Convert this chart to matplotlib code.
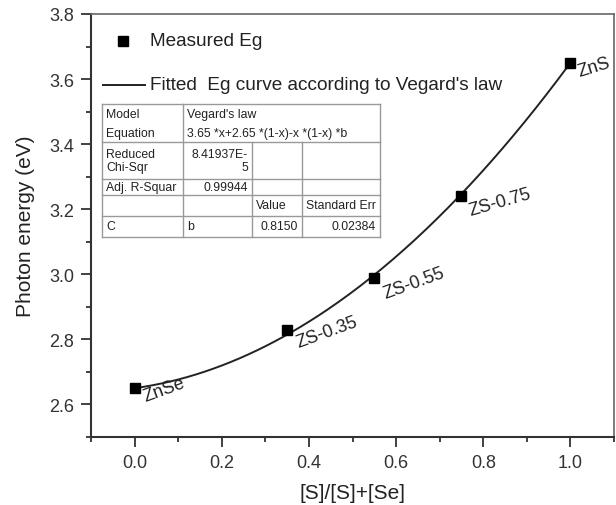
import numpy as np
import matplotlib
matplotlib.use("Agg")
import matplotlib.pyplot as plt
from matplotlib.lines import Line2D
from matplotlib.ticker import MultipleLocator, FormatStrFormatter

plt.rcParams['font.family'] = ['Liberation Sans', 'DejaVu Sans']

# Measured band gaps
composition = [0.0, 0.35, 0.55, 0.75, 1.0]
band_gap = [2.65, 2.83, 2.99, 3.24, 3.65]
sample_names = ["ZnSe", "ZS-0.35", "ZS-0.55", "ZS-0.75", "ZnS"]

# Vegard's law fit parameters
eg_zns = 3.65
eg_znse = 2.65
bowing = 0.8150

# Fit summary table
table_rows = [
    ["Model", "Vegard's law", None, None],
    ["Equation", "3.65 *x+2.65 *(1-x)-x *(1-x) *b", None, None],
    ["Reduced\nChi-Sqr", "8.41937E-\n5", "", ""],
    ["Adj. R-Squar", "0.99944", "", ""],
    ["", "", "Value", "Standard Err"],
    ["C", "b", "0.8150", "0.02384"],
]

W, H = 616, 506
fig = plt.figure(figsize=(W / 100, H / 100), dpi=100)
ax = fig.add_axes([91 / W, 1 - 438 / H, (614 - 91) / W, (438 - 15) / H])


def fx(px):
    return px / W


def fy(py):
    return 1 - py / H


x_fit = np.linspace(0, 1, 200)
y_fit = eg_zns * x_fit + eg_znse * (1 - x_fit) - x_fit * (1 - x_fit) * bowing
ax.plot(x_fit, y_fit, color="#222222", lw=1.4, zorder=2)
ax.plot(composition, band_gap, ls="none", marker="s", ms=6.5, color="black", zorder=3)

# Rotated sample labels, set just below and to the right of each point
label_offsets = [(11, -13), (11, -17), (11, -20), (9, -19), (9, -13)]
label_rot = [20, 20, 20, 16, 17]
for x, y, name, off, r in zip(composition, band_gap, sample_names, label_offsets, label_rot):
    ax.annotate(name, (x, y), xytext=off, textcoords="offset pixels", rotation=r,
                fontsize=13, ha="left", va="baseline", rotation_mode="anchor",
                color="#222222", annotation_clip=False)

ax.set_xlim(-0.1, 1.1)
ax.set_ylim(2.5, 3.8)
ax.xaxis.set_major_locator(MultipleLocator(0.2))
ax.xaxis.set_minor_locator(MultipleLocator(0.1))
ax.yaxis.set_major_locator(MultipleLocator(0.2))
ax.yaxis.set_minor_locator(MultipleLocator(0.1))
ax.set_xticks([0.0, 0.2, 0.4, 0.6, 0.8, 1.0])
ax.set_yticks([2.6, 2.8, 3.0, 3.2, 3.4, 3.6, 3.8])
ax.xaxis.set_major_formatter(FormatStrFormatter("%.1f"))
ax.yaxis.set_major_formatter(FormatStrFormatter("%.1f"))
ax.tick_params(which="major", direction="out", length=7, width=1.3, labelsize=13,
               colors="#333333", labelcolor="#333333", top=False, right=False, pad=5)
ax.tick_params(which="minor", direction="out", length=3.5, width=1.3, colors="#333333",
               top=False, right=False)
for s in ["left", "bottom"]:
    ax.spines[s].set_linewidth(1.5)
    ax.spines[s].set_color("#333333")
for s in ["top", "right"]:
    ax.spines[s].set_linewidth(1.2)
    ax.spines[s].set_color("#666666")
ax.set_xlabel("[S]/[S]+[Se]", fontsize=15, color="#222222", labelpad=9)
ax.set_ylabel("Photon energy (eV)", fontsize=15, color="#222222", labelpad=10)

# Legend
fig.add_artist(Line2D([fx(123)], [fy(41.5)], marker="s", ms=6.5, color="black", ls="none"))
fig.text(fx(150), fy(41.5), "Measured Eg", fontsize=13.7, va="center", color="#222222")
fig.add_artist(Line2D([fx(103), fx(145)], [fy(86), fy(86)], color="#222222", lw=1.4))
fig.text(fx(150), fy(86), "Fitted  Eg curve according to Vegard's law", fontsize=13.7,
         va="center", color="#222222")

# Fit summary table
col_edges = [102, 183, 252, 302, 380]
row_edges = [105, 125, 143, 180, 196, 217, 238]
grid = "#999999"
for i, yy in enumerate(row_edges):
    if i == 1:
        continue
    fig.add_artist(Line2D([fx(col_edges[0]), fx(col_edges[-1])], [fy(yy), fy(yy)],
                          color=grid, lw=1.0))
for j, xx in enumerate(col_edges):
    top = row_edges[0] if j in (0, 1, 4) else row_edges[2]
    fig.add_artist(Line2D([fx(xx), fx(xx)], [fy(top), fy(row_edges[-1])], color=grid, lw=1.0))

right_aligned = {(2, 1), (3, 1), (5, 2), (5, 3)}
for r, row in enumerate(table_rows):
    yc = (row_edges[r] + row_edges[r + 1]) / 2
    for c, val in enumerate(row):
        if not val:
            continue
        if (r, c) in right_aligned:
            fig.text(fx(col_edges[c + 1] - 4), fy(yc), val, fontsize=8.8, ha="right",
                     va="center", color="#222222", linespacing=1.1, multialignment="right")
        else:
            fig.text(fx(col_edges[c] + 4), fy(yc), val, fontsize=8.8, ha="left",
                     va="center", color="#222222", linespacing=1.1)

fig.savefig("out.png", dpi=100)
